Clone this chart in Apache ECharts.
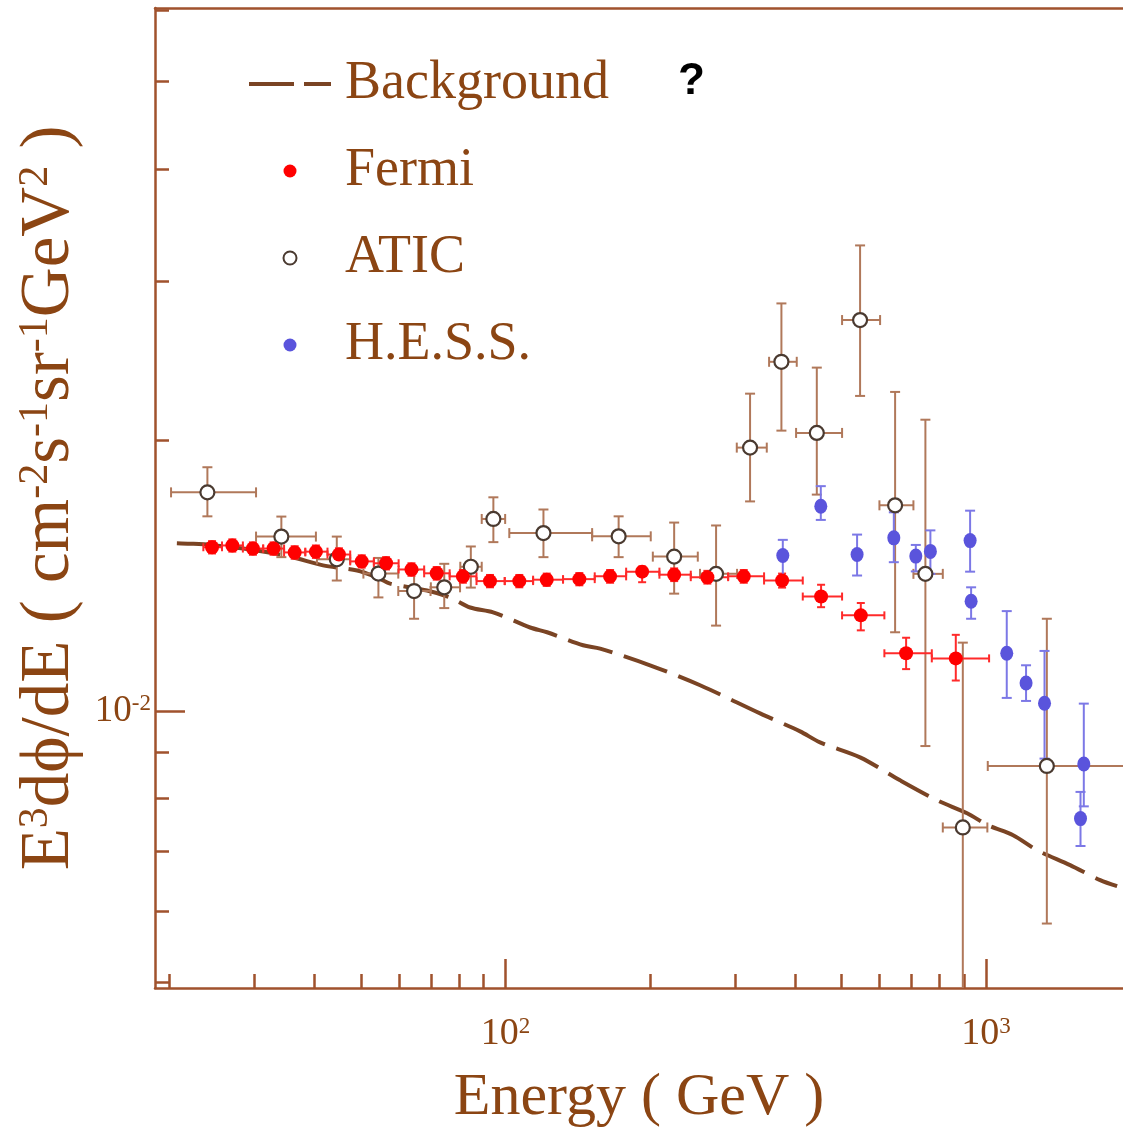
<!DOCTYPE html>
<html>
<head>
<meta charset="utf-8">
<script src="https://cdn.jsdelivr.net/npm/echarts@6/dist/echarts.min.js"></script>
<style>
html,body{margin:0;padding:0;background:#fff;}
#chart{width:1123px;height:1129px;}
</style>
</head>
<body>
<div id="chart"></div>
<script>
// ---------- data (E in GeV, flux E^3 dPhi/dE) ----------
const bgE = [20.7, 22.05, 24.3, 29.4, 35.6, 41.7, 49.1, 54.0, 57.5, 68.65, 76.65, 84.4, 94.2, 112.5, 122.0, 145.0, 157.3, 199.8, 254.0, 338.6, 410.1, 451.3, 546.7, 662.2, 790.7, 913.0, 1009.7, 1138.2, 1276.9, 1495.7, 1727.5, 1873.4];
const bgF = [0.01537, 0.01535, 0.01530, 0.01512, 0.01485, 0.01452, 0.01433, 0.01408, 0.01386, 0.01362, 0.01338, 0.01304, 0.01288, 0.01239, 0.01224, 0.01184, 0.01174, 0.01125, 0.01069, 0.009949, 0.009502, 0.009239, 0.008892, 0.008384, 0.007968, 0.007707, 0.007474, 0.007287, 0.007014, 0.006752, 0.006497, 0.006397];

const fermiE = [24.5, 27.0, 29.8, 32.9, 36.4, 40.3, 45.0, 50.2, 56.4, 63.7, 71.9, 81.5, 92.8, 106.8, 121.8, 142.4, 165.0, 192.4, 224.3, 263.0, 313.1, 376.2, 453.5, 548.6, 681.6, 864.8];
const fermiF = [0.01521, 0.01528, 0.01516, 0.01516, 0.01501, 0.01504, 0.01493, 0.01467, 0.01460, 0.01437, 0.01423, 0.01412, 0.01395, 0.01395, 0.01400, 0.01402, 0.01412, 0.01429, 0.01418, 0.01409, 0.01412, 0.01397, 0.01341, 0.01278, 0.01160, 0.01145];
const fermiFLow = [0.01497, 0.01504, 0.01492, 0.01492, 0.01477, 0.01480, 0.01469, 0.01444, 0.01437, 0.01414, 0.01400, 0.01389, 0.01373, 0.01373, 0.01378, 0.01380, 0.01389, 0.01391, 0.01395, 0.01386, 0.01389, 0.01372, 0.01305, 0.01230, 0.01114, 0.01082];
const fermiFHigh = [0.01545, 0.01552, 0.01540, 0.01540, 0.01525, 0.01528, 0.01517, 0.01490, 0.01483, 0.01460, 0.01446, 0.01435, 0.01417, 0.01417, 0.01422, 0.01424, 0.01435, 0.01448, 0.01441, 0.01432, 0.01435, 0.01422, 0.01382, 0.01319, 0.01207, 0.01216];
const fermiBinEdges = [23.5, 25.7, 28.4, 31.3, 34.6, 38.3, 42.6, 47.5, 53.2, 59.9, 67.7, 76.5, 87.0, 99.6, 114.1, 131.7, 153.3, 178.2, 209.0, 242.9, 290.5, 345.1, 415.4, 501.5, 614.2, 770.9, 1014.4];

const aticE = [23.96, 34.15, 44.54, 54.37, 64.51, 74.54, 84.66, 94.32, 119.9, 171.9, 224.3, 274.2, 322.7, 375.0, 444.3, 546.7, 646.6, 747.6, 894.4, 1337.8];
const aticF = [0.01750, 0.01563, 0.01475, 0.01422, 0.01360, 0.01373, 0.01447, 0.01635, 0.01577, 0.01564, 0.01485, 0.01421, 0.01962, 0.02443, 0.02037, 0.02718, 0.01693, 0.01421, 0.007433, 0.008698];
const aticFLow = [0.01646, 0.01483, 0.01397, 0.01338, 0.01267, 0.01302, 0.01372, 0.01541, 0.01483, 0.01483, 0.01351, 0.01245, 0.01710, 0.02049, 0.01740, 0.02239, 0.01224, 0.009152, 0.0049, 0.005815];
const aticFHigh = [0.01866, 0.01645, 0.01563, 0.01480, 0.01435, 0.01458, 0.01524, 0.01728, 0.01675, 0.01646, 0.01620, 0.01608, 0.02252, 0.02836, 0.02407, 0.03289, 0.02262, 0.02107, 0.01192, 0.01267];
const aticELow = [20.13, 30.25, 40.5, 50.6, 59.8, 69.9, 80.5, 89.2, 101.8, 151.4, 202.5, 253.9, 302.8, 353.5, 402.3, 501.5, 599.8, 705.9, 812.6, 1008];
const aticEHigh = [30.25, 40.3, 47.5, 59.8, 69.8, 80.4, 89.2, 99.8, 151.4, 200.5, 251.2, 303.2, 349.6, 403.6, 501.5, 601.7, 705.9, 812.6, 1006, 2300];

const hessE = [377.5, 452.9, 538.9, 642.6, 714.0, 765.7, 926.2, 930.7, 1104, 1211, 1323, 1597, 1572];
const hessF = [0.01489, 0.01689, 0.01493, 0.01558, 0.01487, 0.01505, 0.01547, 0.01325, 0.01160, 0.01075, 0.01021, 0.008741, 0.007603];
const hessFLow = [0.01409, 0.01631, 0.01415, 0.01464, 0.01430, 0.01421, 0.01429, 0.01267, 0.01035, 0.01027, 0.008863, 0.007845, 0.007089];
const hessFHigh = [0.01550, 0.01778, 0.01571, 0.01663, 0.01530, 0.01588, 0.01670, 0.01373, 0.01292, 0.01125, 0.01167, 0.01020, 0.008140];

const xMinorTicks = [20, 30, 40, 50, 60, 70, 80, 90, 200, 300, 400, 500, 600, 700, 800, 900];
const xMajorTicks = [100, 1000];
const yMinorTicks = [0.005, 0.006, 0.007, 0.008, 0.009, 0.02, 0.03, 0.04, 0.05, 0.06];
const yMajorTicks = [0.01];

const X_MIN = 18.64, X_MAX = 1927;
const Y_MIN = 0.004932, Y_MAX = 0.06033;

// ---------- styling ----------
const AXIS = '#A0522D';
const TEXT = '#8B4513';
const SERIF = "'Liberation Serif','Times New Roman',serif";

const zip = (...arrs) => arrs[0].map((_, i) => arrs.map(a => a[i]));

function errorBars(color, cap) {
  return function (params, api) {
    const x = api.value(0), y = api.value(1);
    const c = api.coord([x, y]);
    const style = { stroke: color, lineWidth: 2 };
    const ch = [];
    const ylo = api.value(2), yhi = api.value(3);
    if (isFinite(ylo) && isFinite(yhi)) {
      const pl = api.coord([x, ylo]), ph = api.coord([x, yhi]);
      ch.push({ type: 'line', shape: { x1: c[0], y1: pl[1], x2: c[0], y2: ph[1] }, style });
      ch.push({ type: 'line', shape: { x1: c[0] - cap, y1: pl[1], x2: c[0] + cap, y2: pl[1] }, style });
      ch.push({ type: 'line', shape: { x1: c[0] - cap, y1: ph[1], x2: c[0] + cap, y2: ph[1] }, style });
    }
    const xlo = api.value(4), xhi = api.value(5);
    if (isFinite(xlo) && isFinite(xhi)) {
      const ql = api.coord([xlo, y]), qh = api.coord([xhi, y]);
      ch.push({ type: 'line', shape: { x1: ql[0], y1: c[1], x2: qh[0], y2: c[1] }, style });
      ch.push({ type: 'line', shape: { x1: ql[0], y1: c[1] - cap, x2: ql[0], y2: c[1] + cap }, style });
      ch.push({ type: 'line', shape: { x1: qh[0], y1: c[1] - cap, x2: qh[0], y2: c[1] + cap }, style });
    }
    return { type: 'group', children: ch };
  };
}

const fermiELow = fermiBinEdges.slice(0, -1);
const fermiEHigh = fermiBinEdges.slice(1);

const supLabel = v => '{b|10}{s|' + Math.round(Math.log10(v)) + '}';

const chart = echarts.init(document.getElementById('chart'), null, { renderer: 'canvas' });
const baseAxis = { type: 'log', logBase: 10, splitLine: { show: false }, axisPointer: { show: false } };

chart.setOption({
  backgroundColor: '#ffffff',
  animation: false,
  grid: { left: 155, right: 0, top: 8, bottom: 141, outerBoundsMode: 'none', containLabel: false },
  legend: {
    orient: 'vertical',
    left: 247,
    top: 55,
    padding: 0,
    itemWidth: 82,
    itemHeight: 13,
    itemGap: 29,
    selectedMode: false,
    data: [
      { name: 'Background', itemStyle: { opacity: 0 }, lineStyle: { width: 4, type: [45, 10], color: '#7A4424' } },
      'Fermi', 'ATIC', 'H.E.S.S.'
    ],
    textStyle: { fontFamily: SERIF, fontSize: 54, lineHeight: 58, color: TEXT, padding: [0, 0, 0, 9] }
  },
  graphic: [
    { type: 'text', left: 678, top: 60, style: { text: '?', font: "bold 44px 'Liberation Sans', Arial, sans-serif", fill: '#000' } }
  ],
  xAxis: [
    Object.assign({}, baseAxis, {
      position: 'bottom', min: X_MIN, max: X_MAX,
      axisLine: { show: true, lineStyle: { color: AXIS, width: 2.5 } },
      axisTick: { show: true, inside: true, length: 14, customValues: xMinorTicks, lineStyle: { color: AXIS, width: 2.5 } },
      axisLabel: { show: false }
    }),
    Object.assign({}, baseAxis, {
      position: 'bottom', min: X_MIN, max: X_MAX,
      axisLine: { show: false },
      axisTick: { show: true, inside: true, length: 29, customValues: xMajorTicks, lineStyle: { color: AXIS, width: 2.5 } },
      axisLabel: {
        show: true, customValues: xMajorTicks, margin: 27, formatter: supLabel,
        rich: {
          b: { fontFamily: SERIF, fontSize: 38, color: TEXT },
          s: { fontFamily: SERIF, fontSize: 23, color: TEXT, verticalAlign: 'top' }
        }
      },
      name: 'Energy ( GeV )', nameLocation: 'middle', nameGap: 80,
      nameTextStyle: { fontFamily: SERIF, fontSize: 60, color: TEXT }
    }),
    Object.assign({}, baseAxis, {
      position: 'top', min: X_MIN, max: X_MAX,
      axisLine: { show: true, lineStyle: { color: AXIS, width: 2.5 } },
      axisTick: { show: false }, axisLabel: { show: false }
    })
  ],
  yAxis: [
    Object.assign({}, baseAxis, {
      position: 'left', min: Y_MIN, max: Y_MAX,
      axisLine: { show: true, lineStyle: { color: AXIS, width: 2.5 } },
      axisTick: { show: true, inside: true, length: 14, customValues: yMinorTicks, lineStyle: { color: AXIS, width: 2.5 } },
      axisLabel: { show: false }
    }),
    Object.assign({}, baseAxis, {
      position: 'left', min: Y_MIN, max: Y_MAX,
      axisLine: { show: false },
      axisTick: { show: true, inside: true, length: 30, customValues: yMajorTicks, lineStyle: { color: AXIS, width: 2.5 } },
      axisLabel: {
        show: true, customValues: yMajorTicks, margin: 4, formatter: supLabel,
        rich: {
          b: { fontFamily: SERIF, fontSize: 37, color: TEXT },
          s: { fontFamily: SERIF, fontSize: 23, color: TEXT, verticalAlign: 'top' }
        }
      },
      name: 'E{sup|3}dϕ/dE ( cm{sup|-2}s{sup|-1}sr{sup|-1}GeV{sup|2} )',
      nameLocation: 'middle', nameRotate: 90, nameGap: 58,
      nameTextStyle: {
        fontFamily: SERIF, fontSize: 69, color: TEXT,
        rich: { sup: { fontFamily: SERIF, fontSize: 42, color: TEXT, verticalAlign: 'top' } }
      }
    })
  ],
  series: [
    {
      name: 'Background', type: 'line', xAxisIndex: 0, yAxisIndex: 0,
      data: zip(bgE, bgF), showSymbol: false, symbol: 'none', smooth: 0.3,
      lineStyle: { color: '#7A4424', width: 4, type: [46, 12] },
      itemStyle: { color: '#7A4424' }, z: 1, silent: true
    },
    {
      name: 'ATIC err', type: 'custom', xAxisIndex: 0, yAxisIndex: 0, clip: true, z: 2, silent: true,
      renderItem: errorBars('#B0785A', 5),
      data: zip(aticE, aticF, aticFLow, aticFHigh, aticELow, aticEHigh)
    },
    {
      name: 'Fermi err', type: 'custom', xAxisIndex: 0, yAxisIndex: 0, clip: true, z: 2, silent: true,
      renderItem: errorBars('#FF2A2A', 4),
      data: zip(fermiE, fermiF, fermiFLow, fermiFHigh, fermiELow, fermiEHigh)
    },
    {
      name: 'HESS err', type: 'custom', xAxisIndex: 0, yAxisIndex: 0, clip: true, z: 2, silent: true,
      renderItem: errorBars('#7C78E6', 5),
      data: zip(hessE, hessF, hessFLow, hessFHigh)
    },
    {
      name: 'ATIC', type: 'scatter', xAxisIndex: 0, yAxisIndex: 0, z: 3,
      symbol: 'circle', symbolSize: 14,
      itemStyle: { color: '#ffffff', borderColor: '#4A3A30', borderWidth: 2.2, opacity: 1 },
      data: zip(aticE, aticF)
    },
    {
      name: 'Fermi', type: 'scatter', xAxisIndex: 0, yAxisIndex: 0, z: 4,
      symbol: 'circle', symbolSize: 14,
      itemStyle: { color: '#FF0000', opacity: 1 },
      data: zip(fermiE, fermiF)
    },
    {
      name: 'H.E.S.S.', type: 'scatter', xAxisIndex: 0, yAxisIndex: 0, z: 4,
      symbol: 'circle', symbolSize: [13, 15],
      itemStyle: { color: '#5A54DC', opacity: 1 },
      data: zip(hessE, hessF)
    }
  ]
});
</script>
</body>
</html>
